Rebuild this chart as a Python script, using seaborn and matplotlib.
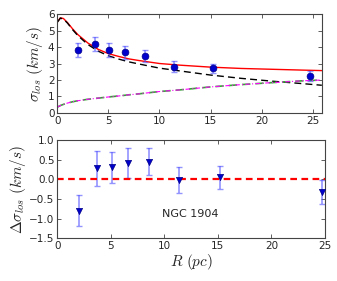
import matplotlib
matplotlib.use("Agg")
import matplotlib.pyplot as plt
import seaborn as sns
import numpy as np
import pandas as pd

# Observed data
R_obs = [2.0, 3.7, 5.1, 6.6, 8.6, 11.4, 15.2, 24.7]
sigma_obs = [3.8, 4.17, 3.82, 3.67, 3.45, 2.8, 2.72, 2.22]
sigma_err = [0.42, 0.42, 0.4, 0.38, 0.36, 0.33, 0.28, 0.3]

# Residuals
dsigma = [-0.8, 0.28, 0.3, 0.42, 0.45, -0.02, 0.05, -0.33]
dsigma_err = [0.4, 0.45, 0.4, 0.38, 0.35, 0.33, 0.3, 0.3]

# Model curves
R_mod = [0, 0.3, 0.6, 1, 1.5, 2, 3, 4, 5, 6, 7, 8, 10, 12, 15, 18, 21, 24, 25.9]
total = [5.52, 5.77, 5.73, 5.48, 5.1, 4.76, 4.24, 3.86, 3.6, 3.43, 3.28, 3.18, 3.0, 2.9, 2.78, 2.7, 2.65, 2.6, 2.57]
comp1 = [5.5, 5.75, 5.7, 5.45, 5.05, 4.7, 4.15, 3.75, 3.47, 3.27, 3.1, 2.97, 2.72, 2.55, 2.3, 2.1, 1.93, 1.78, 1.68]
comp2 = [0.35, 0.45, 0.52, 0.6, 0.68, 0.74, 0.83, 0.9, 0.97, 1.03, 1.1, 1.16, 1.3, 1.4, 1.58, 1.72, 1.84, 1.95, 2.0]

label_text = "NGC 1904"

sns.set_style("ticks")
plt.rcParams['font.family'] = ['DejaVu Sans']
plt.rcParams['mathtext.fontset'] = 'cm'
plt.rcParams['xtick.direction'] = 'in'
plt.rcParams['ytick.direction'] = 'in'

fig = plt.figure(figsize=(3.37, 2.81), dpi=100)
ax1 = fig.add_axes([0.170, 0.598, 0.785, 0.352])
ax2 = fig.add_axes([0.170, 0.152, 0.794, 0.350])

mod = pd.DataFrame({"R": R_mod, "total": total, "c1": comp1, "c2": comp2})
sns.lineplot(data=mod, x="R", y="total", ax=ax1, color="red", lw=1.0)
sns.lineplot(data=mod, x="R", y="c1", ax=ax1, color="black", lw=1.0, linestyle=(0, (5, 3)))
sns.lineplot(data=mod, x="R", y="c2", ax=ax1, color="#33aa33", lw=1.2, linestyle=(0, (5, 3)))
sns.lineplot(data=mod, x="R", y="c2", ax=ax1, color="magenta", lw=0.8, linestyle=(0, (4, 2, 1, 2)))

ax1.errorbar(R_obs, sigma_obs, yerr=sigma_err, fmt='none', ecolor=(0.3, 0.3, 1.0, 0.6), elinewidth=1.2, capsize=2.5)
sns.scatterplot(x=R_obs, y=sigma_obs, ax=ax1, color="#0000cc", s=24, marker='o', edgecolor="#000088", linewidth=0.5, zorder=5)

ax1.set_xlim(0, 25.9)
ax1.set_ylim(0, 6)
ax1.set_xticks([0, 5, 10, 15, 20, 25])
ax1.set_yticks([0, 1, 2, 3, 4, 5, 6])
ax1.set_xlabel("")
ax1.set_ylabel(r"$\sigma_{los}\ (km/s)$", fontsize=11, labelpad=2)

ax2.errorbar(R_obs, dsigma, yerr=dsigma_err, fmt='none', ecolor=(0.3, 0.3, 1.0, 0.6), elinewidth=1.2, capsize=2.5)
sns.scatterplot(x=R_obs, y=dsigma, ax=ax2, color="#0000cc", s=20, marker='v', edgecolor="#000088", linewidth=0.5, zorder=5)
ax2.axhline(0, color="red", lw=1.6, linestyle=(0, (3, 2)))
ax2.text(12.4, -0.88, label_text, fontsize=8, ha='center', va='center')
ax2.set_xlim(0, 25)
ax2.set_ylim(-1.5, 1.0)
ax2.set_xticks([0, 5, 10, 15, 20, 25])
ax2.set_yticks([-1.5, -1.0, -0.5, 0.0, 0.5, 1.0])
ax2.set_xlabel(r"$R\ (pc)$", fontsize=11, labelpad=1)
ax2.set_ylabel(r"$\Delta\sigma_{los}\ (km/s)$", fontsize=11, labelpad=1)

for ax in (ax1, ax2):
    ax.tick_params(axis='both', which='both', direction='in', top=True, right=True,
                   labelsize=7.5, length=3, width=0.6, pad=2, color="#444444")
    for s in ax.spines.values():
        s.set_visible(True)
        s.set_color("#444444")
        s.set_linewidth(0.8)

fig.savefig("out.png", dpi=100)
